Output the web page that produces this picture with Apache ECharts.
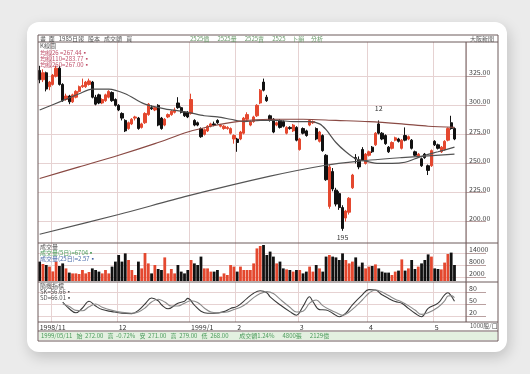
<!DOCTYPE html>
<html><head><meta charset="utf-8">
<script src="https://cdn.jsdelivr.net/npm/echarts@6/dist/echarts.min.js"></script>
<style>
html,body{margin:0;padding:0;width:530px;height:374px;background:#ebebeb;overflow:hidden;}
#card{position:absolute;left:27px;top:22px;width:480px;height:330px;background:#fff;border-radius:12px;box-shadow:2px 5px 14px rgba(0,0,0,0.18);}
#chart{position:absolute;left:0;top:0;width:530px;height:374px;}
</style></head>
<body><div id="card"></div><div id="chart"></div>
<script>
// ---- data ----
const slotCount = 130;
const monthLineIdx = [4, 24, 46, 60, 79, 100, 120];
const monthLabelIdx = [0, 24, 46, 60, 79, 100, 120];
const monthLabels = ['1998/11', '12', '1999/1', '2', '3', '4', '5'];
const priceTicks = [200, 225, 250, 275, 300, 325];
const volTicks = [2000, 8000, 14000];
const kdTicks = [20, 50, 80];
// [open, close, low, high]
const candles = [
[330,322,319,334],[322,328,320,331],[328,314,312,329],[316,320,313,321],[318,326,317,327],
[325,332,324,334],[332,318,317,334],[318,304,303,319],[305,308,304,310],[308,303,301,309],
[303,309,302,310],[307,312,306,313],[312,316,311,317],[316,317,315,323],[316,320,315,321],
[318,321,317,323],[320,307,306,321],[307,301,300,309],[309,302,301,310],[302,305,301,306],
[304,309,303,310],[307,312,306,313],[311,304,303,312],[305,300,299,306],[300,296,295,301],
[293,289,287,294],[287,278,277,288],[280,285,279,286],[284,288,283,289],[289,290,287,291],
[289,280,279,290],[281,284,280,285],[285,293,284,294],[292,301,291,302],[298,297,296,300],
[296,298,295,299],[300,283,282,301],[289,280,279,290],[283,288,282,289],[290,292,289,293],
[292,295,291,296],[294,296,293,298],[302,298,297,307],[298,294,293,299],[294,291,290,295],
[294,290,289,295],[293,305,292,310],[287,283,282,288],[285,283,282,286],[280,273,272,281],
[275,279,274,280],[278,282,277,283],[282,284,281,285],[284,283,282,286],[287,285,284,288],
[282,283,281,284],[280,282,279,283],[280,281,279,282],[276,280,275,281],[271,274,267,275],
[271,268,260,272],[271,277,270,278],[276,289,275,290],[288,292,287,294],[283,286,282,287],
[286,290,285,291],[291,300,290,301],[302,313,301,314],[320,313,312,323],[307,304,303,309],
[291,287,286,292],[288,277,276,289],[283,285,282,286],[287,281,280,288],[286,282,281,287],
[276,281,275,282],[281,280,279,282],[278,283,277,284],[281,270,269,282],[262,271,261,272],
[280,276,275,281],[278,274,273,279],[283,287,282,288],[285,286,284,287],[280,271,270,281],
[269,277,268,278],[274,261,260,275],[257,236,235,258],[213,247,211,249],[243,228,226,246],
[227,215,213,229],[224,212,210,226],[212,194,192,214],[203,209,200,210],[208,220,206,221],
[229,240,228,241],[255,254,250,258],[253,247,245,256],[262,253,252,264],[250,258,249,259],
[257,260,256,261],[264,260,259,265],[266,276,265,277],[284,276,275,287],[276,271,270,277],
[274,267,266,275],[264,260,259,265],[263,268,262,269],[270,272,269,273],[271,269,268,272],
[263,270,262,271],[274,270,269,281],[271,273,270,274],[270,263,262,271],[260,257,256,261],
[256,258,255,259],[254,248,247,255],[258,255,254,259],[248,244,240,249],[248,261,247,262],
[269,266,265,270],[266,263,262,267],[260,264,259,265],[262,269,261,270],[270,280,269,281],
[285,280,279,291],[280,271,270,281]
];
const volumes = [
9700,8500,8000,7200,4800,9700,7500,8800,6300,4200,
3800,3800,3500,5500,3800,4500,6300,5500,4700,3800,
5500,3800,7200,9700,13000,9700,13800,10500,5500,3000,
9700,6300,14000,8800,3800,8000,6000,5500,11800,3800,
6000,3800,8000,4700,3800,5500,10500,8800,8000,12200,
6300,6300,4700,4700,5500,2200,3800,3000,8000,7200,
4700,7200,5500,5500,5500,8800,16300,17500,18000,13000,
14700,12200,8800,9700,6300,5800,5500,4700,5500,5500,
3800,4700,7200,4700,8000,6300,4700,12200,13000,12200,
11800,10500,13800,10500,8800,9700,11800,7200,9200,6300,
7200,7500,8300,6300,4700,4200,4200,3000,4700,5200,
10800,5200,6300,10500,6000,7200,8800,10500,13300,12200,
6300,6000,5800,9200,13500,14200,8000
];
// moving averages: [day index, value]
const ma26 = [[0,296],[7,304],[12,310],[16,314],[21,314],[26,310],[32,301],[38,297],[45,294],[50,291],[54,290],[58,288],[62,286],[67,287],[72,287],[77,286],[82,286],[85,284],[87,279],[90,268],[93,260],[96,254],[99,252],[103,250],[107,250],[111,251],[114,254],[117,257],[121,260],[126,264]];
const ma110 = [[0,237],[12,247],[24,257],[35,267],[45,277],[52,282],[60,286],[70,288],[80,288],[90,287],[100,286],[110,284],[118,282],[126,281]];
const ma260 = [[0,189],[24,206],[45,222],[70,239],[86,248],[97,252],[110,255],[126,258]];
const kLine = [[7,55],[9,38],[11,28],[13,40],[15,57],[17,45],[19,36],[22,31],[25,27],[28,26],[30,34],[32,50],[34,65],[36,58],[37,48],[39,38],[42,52],[44,57],[45,64],[47,47],[49,32],[51,27],[53,27],[56,31],[58,39],[60,44],[63,64],[65,77],[67,83],[69,78],[70,68],[73,48],[76,31],[78,22],[80,44],[82,68],[83,56],[85,36],[87,35],[89,27],[91,18],[93,27],[95,48],[98,73],[100,86],[102,85],[104,73],[106,64],[108,56],[110,52],[112,39],[114,27],[116,18],[118,39],[121,52],[123,73],[124,78],[125,70],[126,57]];
const dLine = [[7,50],[9,44],[11,34],[13,33],[15,43],[17,50],[19,42],[22,34],[25,29],[28,27],[30,30],[32,40],[34,55],[36,62],[38,55],[40,45],[42,45],[44,52],[46,58],[48,54],[50,40],[52,30],[54,28],[57,30],[59,36],[61,42],[63,52],[65,66],[67,76],[69,81],[71,76],[73,62],[76,42],[78,30],[80,32],[82,52],[84,60],[86,46],[88,36],[90,29],[92,22],[94,30],[96,44],[98,60],[100,77],[102,85],[104,80],[106,71],[108,62],[110,55],[112,46],[114,35],[116,24],[118,28],[121,42],[123,58],[124,70],[125,71],[126,66]];
const highMark = {idx: 103, value: 287, text: '12'};
const lowMark = {idx: 92, value: 192, text: '195'};

// ---- chart ----
const RED = '#e4482f', BLK = '#111';
const FONT = '"Noto Sans CJK TC", sans-serif';
const cats = Array.from({length: slotCount}, (_, i) => String(i));
const volData = volumes.map((v, i) => ({value: v, itemStyle: {color: candles[i][1] >= candles[i][0] ? RED : BLK}}));
const gridLine = {show: true, interval: (i) => monthLineIdx.includes(i), lineStyle: {color: '#e6d2d2', width: 1}};
function xAx(gi, labels) {
  return {type: 'category', gridIndex: gi, data: cats, boundaryGap: true,
    axisLine: {show: false}, axisTick: {show: false},
    axisLabel: labels ? {show: true, interval: (i) => monthLabelIdx.includes(i),
      formatter: (v, i) => monthLabels[monthLabelIdx.indexOf(Number(v))] || '',
      align: 'left', margin: 2, fontSize: 7, color: '#333', fontFamily: FONT} : {show: false},
    splitLine: gridLine};
}
function yAx(gi, min, max, ticks, fmt) {
  return {type: 'value', gridIndex: gi, position: 'right', min, max, scale: true,
    axisLine: {show: false},
    axisTick: {show: true, customValues: ticks, length: 20, inside: false, lineStyle: {color: '#b9a0a0'}},
    axisLabel: {show: true, customValues: ticks, formatter: fmt, fontSize: 7, color: '#444', margin: 3, align: 'left', verticalAlign: 'bottom', fontFamily: FONT},
    splitLine: {show: true, lineStyle: {color: '#e6d2d2'}}};
}
const option = {
  animation: false,
  grid: [
    {left: 38, right: 64, top: 42, height: 201},
    {left: 38, right: 64, top: 243, height: 38},
    {left: 38, right: 64, top: 282, height: 40}
  ],
  xAxis: [xAx(0, false), xAx(1, false), xAx(2, true)],
  yAxis: [
    yAx(0, 181.5, 354.5, priceTicks, (v) => v.toFixed(2)),
    yAx(1, 0, 19000, volTicks, (v) => String(v)),
    yAx(2, 5, 105, kdTicks, (v) => String(v))
  ],
  series: [
    {type: 'candlestick', xAxisIndex: 0, yAxisIndex: 0, data: candles, barWidth: '85%',
      itemStyle: {color: RED, color0: BLK, borderColor: RED, borderColor0: BLK, borderWidth: 1},
      markPoint: {symbol: 'circle', symbolSize: 0, silent: true,
        label: {show: true, fontSize: 7, color: '#333', fontFamily: FONT, formatter: (p) => p.name},
        data: [
          {name: highMark.text, coord: [highMark.idx, highMark.value], label: {position: 'top', distance: 9}},
          {name: lowMark.text, coord: [lowMark.idx, lowMark.value], label: {position: 'bottom', distance: 3}}
        ]}},
    {type: 'line', xAxisIndex: 0, yAxisIndex: 0, data: ma26, showSymbol: false, smooth: 0.3, lineStyle: {color: '#505050', width: 1.2}, z: 3},
    {type: 'line', xAxisIndex: 0, yAxisIndex: 0, data: ma110, showSymbol: false, smooth: 0.3, lineStyle: {color: '#8a4a44', width: 1.2}, z: 3},
    {type: 'line', xAxisIndex: 0, yAxisIndex: 0, data: ma260, showSymbol: false, smooth: 0.3, lineStyle: {color: '#555', width: 1.2}, z: 3},
    {type: 'bar', xAxisIndex: 1, yAxisIndex: 1, data: volData, barWidth: '85%'},
    {type: 'line', xAxisIndex: 2, yAxisIndex: 2, data: kLine, showSymbol: false, smooth: 0.4, lineStyle: {color: '#3a3a3a', width: 1.1}},
    {type: 'line', xAxisIndex: 2, yAxisIndex: 2, data: dLine, showSymbol: false, smooth: 0.4, lineStyle: {color: '#8a8a8a', width: 1.1}}
  ],
  graphic: [
    // frames
    {type: 'rect', shape: {x: 38, y: 35, width: 460, height: 306}, style: {fill: 'none', stroke: '#6d5b5b', lineWidth: 1}, z: 10},
    {type: 'line', shape: {x1: 38, y1: 42, x2: 498, y2: 42}, style: {stroke: '#6d5b5b'}, z: 10},
    {type: 'line', shape: {x1: 38, y1: 243, x2: 498, y2: 243}, style: {stroke: '#6d5b5b'}, z: 10},
    {type: 'line', shape: {x1: 38, y1: 282, x2: 498, y2: 282}, style: {stroke: '#6d5b5b'}, z: 10},
    {type: 'line', shape: {x1: 38, y1: 322, x2: 498, y2: 322}, style: {stroke: '#6d5b5b'}, z: 10},
    {type: 'line', shape: {x1: 38, y1: 331, x2: 498, y2: 331}, style: {stroke: '#6d5b5b'}, z: 10},
    {type: 'line', shape: {x1: 466, y1: 42, x2: 466, y2: 322}, style: {stroke: '#6d5b5b'}, z: 10},
    {type: 'rect', shape: {x: 39, y: 332, width: 458, height: 8}, style: {fill: '#e3f0e0'}, z: 1},
    // texts
    {type: 'text', left: 40, top: 35.5, style: {text: '畫  面   1985日報   股本   成交額   買', font: '6px ' + FONT, fill: '#555'}, z: 11},
    {type: 'text', left: 190, top: 35.5, style: {text: '2525價      2525量      2525賣      2525     卜韻     分析', font: '6px ' + FONT, fill: '#6a9a6a'}, z: 11},
    {type: 'text', left: 470, top: 35.5, style: {text: '大阪新聞', font: '6px ' + FONT, fill: '#555'}, z: 11},
    {type: 'text', left: 40, top: 43, style: {text: 'K線圖', font: '6px ' + FONT, fill: '#555'}, z: 11},
    {type: 'text', left: 40, top: 50, style: {text: '均線26 =267.44▪', font: '6px ' + FONT, fill: '#c0506a'}, z: 11},
    {type: 'text', left: 40, top: 56, style: {text: '均線110=283.77▪', font: '6px ' + FONT, fill: '#c0506a'}, z: 11},
    {type: 'text', left: 40, top: 62, style: {text: '均線260=267.00▪', font: '6px ' + FONT, fill: '#c0506a'}, z: 11},
    {type: 'text', left: 40, top: 244, style: {text: '成交量', font: '6px ' + FONT, fill: '#555'}, z: 11},
    {type: 'text', left: 40, top: 250, style: {text: '成交量(5日)=6704▪', font: '6px ' + FONT, fill: '#4a9a5a'}, z: 11},
    {type: 'text', left: 40, top: 256, style: {text: '成交量(25日)=2.57▪', font: '6px ' + FONT, fill: '#4a6aaa'}, z: 11},
    {type: 'text', left: 40, top: 283, style: {text: '隨機指標', font: '6px ' + FONT, fill: '#555'}, z: 11},
    {type: 'text', left: 40, top: 289, style: {text: 'SK=56.66▪', font: '6px ' + FONT, fill: '#555'}, z: 11},
    {type: 'text', left: 40, top: 295, style: {text: 'SD=66.01▪', font: '6px ' + FONT, fill: '#555'}, z: 11},
    {type: 'text', left: 470, top: 323, style: {text: '1000股/口', font: '6px ' + FONT, fill: '#555'}, z: 11},
    {type: 'text', left: 41, top: 332.5, style: {text: '1999/05/11   始  272.00   高  -0.72%   安  271.00   高  279.00   低  268.00        成交額1.24%      4800張      2129億', font: '6px ' + FONT, fill: '#4a9a5a'}, z: 11}
  ]
};
const chart = echarts.init(document.getElementById('chart'), null, {renderer: 'canvas'});
chart.setOption(option);
</script></body></html>
